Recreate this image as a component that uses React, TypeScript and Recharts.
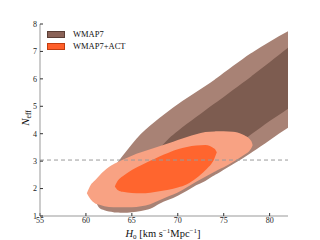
import React from 'react';
import { ComposedChart, Area, XAxis, YAxis, ReferenceLine, Legend } from 'recharts';

// H0 sample grid [km s^-1 Mpc^-1]
const h0 = [60.1, 60.5, 61, 61.5, 62, 63, 63.15, 63.5, 64, 65, 66, 67, 68, 69, 70, 71, 72, 73, 74, 74.25, 75, 76, 77, 78, 78.15, 79, 80, 81, 82];

// WMAP7 95% region (lower / upper Neff)
const wmap7OuterLow = [null, null, 1.57, 1.28, 1.21, 1.14, 1.13, 1.13, 1.12, 1.14, 1.18, 1.26, 1.45, 1.59, 1.74, 1.92, 2.12, 2.28, 2.49, 2.53, 2.69, 2.89, 3.09, 3.31, 3.34, 3.53, 3.76, 4.0, 4.22];
const wmap7OuterHigh = [null, null, 1.57, 1.92, 2.27, 2.76, 2.83, 2.98, 3.2, 3.62, 4.0, 4.3, 4.57, 4.83, 5.07, 5.3, 5.52, 5.74, 5.97, 6.03, 6.22, 6.47, 6.71, 6.94, 6.97, 7.15, 7.35, 7.55, 7.74];

// WMAP7 68% region
const wmap7InnerLow = [null, null, null, null, null, null, null, null, null, null, 2.49, 2.23, 2.19, 2.23, 2.38, 2.56, 2.74, 2.96, 3.14, 3.2, 3.36, 3.54, 3.74, 3.98, 4.02, 4.22, 4.46, 4.68, 4.91];
const wmap7InnerHigh = [null, null, null, null, null, null, null, null, null, null, 2.49, 3.03, 3.45, 3.82, 4.1, 4.36, 4.61, 4.86, 5.1, 5.16, 5.34, 5.59, 5.84, 6.09, 6.13, 6.35, 6.61, 6.87, 7.13];

// WMAP7+ACT 95% region
const actOuterLow = [1.83, 1.61, 1.46, 1.41, 1.36, 1.32, 1.32, 1.32, 1.32, 1.32, 1.36, 1.43, 1.57, 1.72, 1.86, 2.05, 2.25, 2.43, 2.61, 2.66, 2.78, 2.97, 3.18, 3.47, 3.58, null, null, null, null];
const actOuterHigh = [1.83, 2.12, 2.3, 2.49, 2.65, 2.89, 2.91, 2.97, 3.05, 3.2, 3.32, 3.43, 3.54, 3.65, 3.77, 3.88, 3.98, 4.06, 4.08, 4.09, 4.09, 4.07, 3.98, 3.73, 3.58, null, null, null, null];

// WMAP7+ACT 68% region
const actInnerLow = [null, null, null, null, null, null, 2.08, 1.94, 1.88, 1.84, 1.83, 1.85, 1.9, 1.96, 2.04, 2.16, 2.38, 2.67, 3.11, 3.32, null, null, null, null, null, null, null, null, null];
const actInnerHigh = [null, null, null, null, null, null, 2.08, 2.3, 2.45, 2.68, 2.85, 3.01, 3.17, 3.31, 3.43, 3.52, 3.57, 3.59, 3.45, 3.32, null, null, null, null, null, null, null, null, null];

const xTicks = [55, 60, 65, 70, 75, 80];
const yTicks = [1, 2, 3, 4, 5, 6, 7, 8];
const xDomain = [55, 82];
const yDomain = [1, 8];
const standardNeff = 3.04;
const legendNames = ['WMAP7', 'WMAP7+ACT'];

const COLORS = {
  wOut: '#a88275',
  wIn: '#7d5c50',
  aOut: '#f8a283',
  aIn: '#ff652e',
};
const LEGEND_FILL = ['#8a6257', '#ff5f2a'];
const LEGEND_EDGE = ['#5a3e36', '#c23d10'];
const SERIF = '"Liberation Serif", "DejaVu Serif", serif';

const pair = (lo: number | null, hi: number | null) => (lo == null || hi == null ? null : [lo, hi]);

const rows = h0.map((x, i) => ({
  h0: x,
  wOut: pair(wmap7OuterLow[i], wmap7OuterHigh[i]),
  wIn: pair(wmap7InnerLow[i], wmap7InnerHigh[i]),
  aOut: pair(actOuterLow[i], actOuterHigh[i]),
  aIn: pair(actInnerLow[i], actInnerHigh[i]),
}));

const tickStyle = { fontFamily: SERIF, fontSize: 8, fill: '#222' };
const NoTick = () => <g />;

const XLabel = (props: any) => {
  const vb = props.viewBox || {};
  const cx = (vb.x ?? 40) + (vb.width ?? 248) / 2 - 1;
  return (
    <text x={cx} y={237} textAnchor="middle" fontFamily={SERIF} fontSize={10.5} fill="#111">
      <tspan fontStyle="italic">H</tspan>
      <tspan fontSize={7} dy={2}>0</tspan>
      <tspan dy={-2}> [km s</tspan>
      <tspan fontSize={7} dy={-4}>−1</tspan>
      <tspan dy={4}>Mpc</tspan>
      <tspan fontSize={7} dy={-4}>−1</tspan>
      <tspan dy={4}>]</tspan>
    </text>
  );
};

const YLabel = (props: any) => {
  const vb = props.viewBox || {};
  const cy = (vb.y ?? 24) + (vb.height ?? 192) / 2 - 2;
  const x = 29;
  return (
    <text x={x} y={cy} transform={`rotate(-90 ${x} ${cy})`} textAnchor="middle" fontFamily={SERIF} fontSize={11} fill="#111">
      <tspan fontStyle="italic">N</tspan>
      <tspan fontSize={7.5} dy={2}>eff</tspan>
    </text>
  );
};

const LegendContent = () => (
  <div style={{ fontFamily: SERIF, fontSize: 8.5, color: '#111' }}>
    {legendNames.map((name, i) => (
      <div key={name} style={{ display: 'flex', alignItems: 'center', height: 12 }}>
        <span
          style={{
            display: 'inline-block',
            width: 16,
            height: 5,
            background: LEGEND_FILL[i],
            border: `0.7px solid ${LEGEND_EDGE[i]}`,
            marginRight: 8,
          }}
        />
        <span>{name}</span>
      </div>
    ))}
  </div>
);

export default function App() {
  return (
    <div style={{ position: 'absolute', left: 0, top: 0, width: 320, height: 240, background: '#fff' }}>
      <ComposedChart width={320} height={240} data={rows} margin={{ top: 24, right: 32, bottom: 0, left: 0 }}>
        <XAxis
          dataKey="h0"
          type="number"
          domain={xDomain}
          ticks={xTicks}
          allowDataOverflow
          height={24}
          tickSize={-3}
          tickMargin={4}
          tick={tickStyle}
          axisLine={{ stroke: '#999', strokeWidth: 1 }}
          tickLine={{ stroke: '#333' }}
          label={<XLabel />}
        />
        <XAxis
          xAxisId="top"
          dataKey="h0"
          type="number"
          orientation="top"
          domain={xDomain}
          ticks={xTicks}
          allowDataOverflow
          height={0}
          tickSize={-3}
          tick={NoTick}
          axisLine={{ stroke: '#999', strokeWidth: 1 }}
          tickLine={{ stroke: '#333' }}
        />
        <YAxis
          type="number"
          domain={yDomain}
          ticks={yTicks}
          allowDataOverflow
          width={40}
          tickSize={-3}
          tickMargin={6}
          tick={tickStyle}
          axisLine={{ stroke: '#999', strokeWidth: 1 }}
          tickLine={{ stroke: '#333' }}
          label={<YLabel />}
        />
        <YAxis
          yAxisId="right"
          type="number"
          orientation="right"
          domain={yDomain}
          ticks={yTicks}
          allowDataOverflow
          width={0}
          tickSize={-3}
          tick={NoTick}
          axisLine={{ stroke: '#999', strokeWidth: 1 }}
          tickLine={{ stroke: '#333' }}
        />
        <Area dataKey="wOut" type="monotone" stroke="none" fill={COLORS.wOut} fillOpacity={1} isAnimationActive={false} dot={false} activeDot={false} legendType="none" />
        <Area dataKey="wIn" type="monotone" stroke="none" fill={COLORS.wIn} fillOpacity={1} isAnimationActive={false} dot={false} activeDot={false} legendType="none" />
        <Area dataKey="aOut" type="monotone" stroke="none" fill={COLORS.aOut} fillOpacity={1} isAnimationActive={false} dot={false} activeDot={false} legendType="none" />
        <Area dataKey="aIn" type="monotone" stroke="none" fill={COLORS.aIn} fillOpacity={1} isAnimationActive={false} dot={false} activeDot={false} legendType="none" />
        <ReferenceLine y={standardNeff} stroke="#9a9a9a" strokeWidth={1} strokeDasharray="4 3" />
        <Legend
          layout="vertical"
          align="center"
          verticalAlign="middle"
          content={<LegendContent />}
          wrapperStyle={{ left: 47, top: 28, width: 'auto', height: 'auto' }}
        />
      </ComposedChart>
    </div>
  );
}
